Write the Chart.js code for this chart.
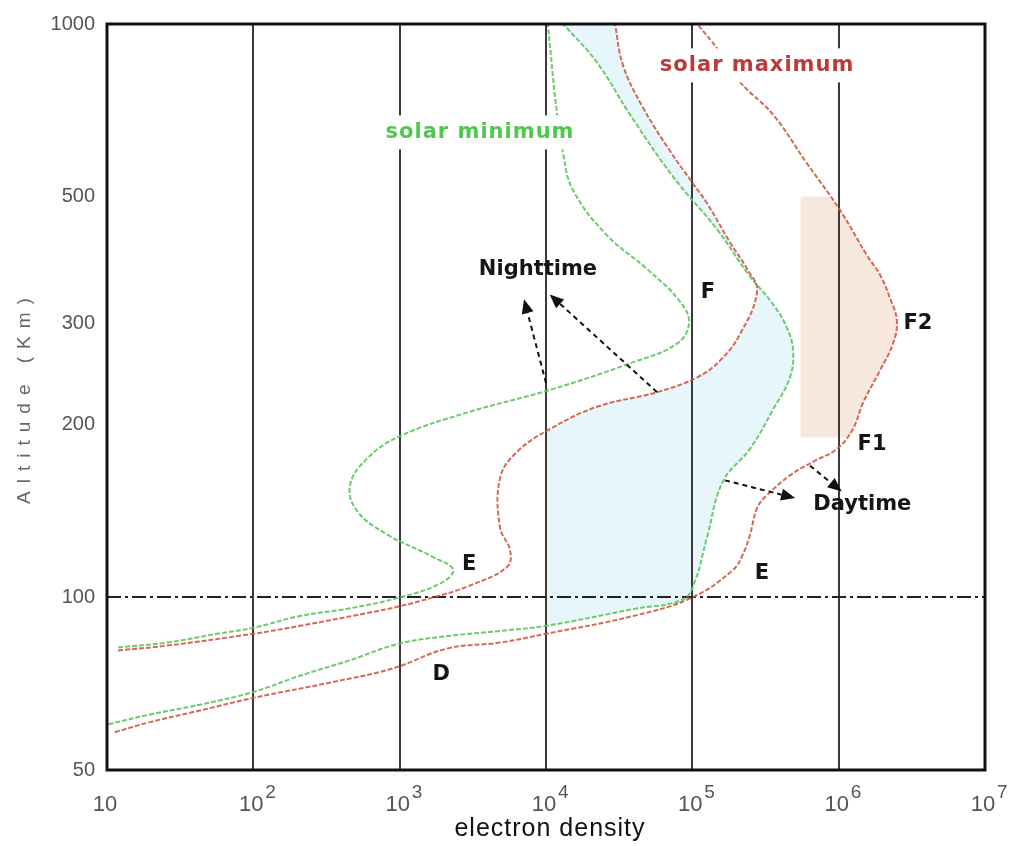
<!doctype html>
<html lang="en">
  <head>
    <meta charset="UTF-8" />
    <title>Electron density vs altitude</title>
    <script src="https://cdn.jsdelivr.net/npm/chart.js"></script>
    <style>
      html, body { margin: 0; padding: 0; background: #fff; }
    </style>
  </head>
  <body>
    <canvas id="ionoChart" width="1013" height="846"></canvas>
    <script>
      // axis ticks
      var xTicks = [10, 1e2, 1e3, 1e4, 1e5, 1e6, 1e7];
      var yTicks = [50, 100, 200, 300, 500, 1000];

      // nighttime profile, solar minimum (green)
      var nightMinX = [11.9, 25.7, 56.5, 100, 208, 458, 1000, 1890, 2320, 1690, 819, 511, 458, 598, 1000, 2880, 10600, 37500, 78500, 94900, 82400, 49000, 26100, 15300, 13100, 11700, 10800, 10300];
      var nightMinY = [81.8, 83.4, 86.4, 88.5, 92.8, 95.7, 100, 105.7, 111.7, 117.6, 128.8, 141.6, 156.9, 174.6, 191, 210, 230, 256, 277, 301, 328, 374, 428, 513, 594, 723, 881, 1000];

      // nighttime profile, solar maximum (red)
      var nightMaxX = [11.9, 25.7, 100, 208, 598, 1000, 1690, 2880, 5420, 5680, 4850, 4850, 6340, 10600, 22300, 57400, 108000, 155000, 212000, 277000, 237000, 181000, 126000, 101000, 70300, 46000, 33600, 29600];
      var nightMaxY = [80.8, 82.4, 86.4, 89.2, 93.9, 96.5, 100, 104.4, 113, 120.9, 132.4, 161.3, 179.4, 196.5, 215, 228, 242, 259, 288, 342, 374, 416, 487, 527, 601, 715, 847, 1000];

      // daytime profile, solar minimum (green)
      var dayMinX = [10.2, 19.7, 43.2, 100, 208, 458, 1000, 2210, 4850, 10000, 39400, 86300, 104000, 126000, 162000, 248000, 356000, 465000, 488000, 444000, 356000, 240000, 148000, 73700, 37500, 22300, 13100];
      var dayMinY = [60.1, 62.5, 65, 68.4, 73, 77.7, 83.1, 85.7, 87.4, 89.2, 95.4, 99.2, 106.5, 127.3, 159.4, 181.6, 212.6, 242, 269.5, 295, 324.5, 366.7, 438, 542, 695, 857, 1000];

      // daytime profile, solar maximum (red)
      var dayMaxX = [11.3, 19.7, 43.2, 100, 350, 900, 2100, 4850, 10000, 39400, 100000, 190000, 222000, 248000, 277000, 324000, 465000, 668000, 975000, 1250000, 1470000, 1920000, 2350000, 2500000, 2250000, 1920000, 1560000, 1020000, 608000, 356000, 212000, 148000, 108000];
      var dayMaxY = [58.2, 60.6, 63.5, 66.8, 71.2, 75.2, 81.4, 83.4, 86.4, 92.8, 100, 111.7, 119, 128.8, 143.2, 150.8, 163.2, 172.4, 181.6, 196.5, 218.6, 249, 277, 303.4, 332, 365, 395, 474, 571, 695, 792, 906, 1000];

      // text annotations (data coordinates)
      var noteText = ["Nighttime", "F", "F2", "F1", "Daytime", "E", "E", "D"];
      var noteX = [8810, 128000, 3480000, 1690000, 1450000, 2980, 299000, 1920];
      var noteY = [373, 340, 300, 185, 145, 114, 110, 73.5];

      // dashed arrows: tail -> tip (data coordinates)
      var arrowFromX = [10000, 57400, 167000, 637000];
      var arrowFromY = [236.6, 228, 160, 169.7];
      var arrowToX = [7080, 10600, 504000, 1050000];
      var arrowToY = [331, 337.6, 149, 153];

      var GREEN = "rgba(95, 195, 95, 0.9)";
      var RED = "rgba(210, 90, 70, 0.9)";

      function pts(xs, ys) {
        return xs.map(function (x, i) {
          return { x: x, y: ys[i] };
        });
      }

      function curve(label, xs, ys, color) {
        return {
          label: label,
          data: pts(xs, ys),
          showLine: true,
          borderColor: color,
          borderWidth: 2,
          borderDash: [5, 2],
          pointRadius: 0,
          tension: 0.4,
          fill: false,
        };
      }

      function bez(ctx, p, q, rev) {
        if (!rev) {
          if (p.cp2x === undefined) ctx.lineTo(q.x, q.y);
          else ctx.bezierCurveTo(p.cp2x, p.cp2y, q.cp1x, q.cp1y, q.x, q.y);
        } else {
          if (p.cp1x === undefined) ctx.lineTo(q.x, q.y);
          else ctx.bezierCurveTo(p.cp1x, p.cp1y, q.cp2x, q.cp2y, q.x, q.y);
        }
      }

      // shade the area between two profiles, limited to a rectangle
      function fillBetween(chart, a, b, color, l, t, r, btm) {
        var ctx = chart.ctx;
        var ma = chart.getDatasetMeta(a);
        var mb = chart.getDatasetMeta(b);
        [ma, mb].forEach(function (m) {
          if (m.dataset && m.dataset.updateControlPoints) {
            m.dataset.updateControlPoints(chart.chartArea, "x");
          }
        });
        var pa = ma.data;
        var pb = mb.data;
        var i;
        ctx.save();
        ctx.beginPath();
        ctx.rect(l, t, r - l, btm - t);
        ctx.clip();
        ctx.beginPath();
        ctx.moveTo(pa[0].x, pa[0].y);
        for (i = 1; i < pa.length; i++) bez(ctx, pa[i - 1], pa[i], false);
        ctx.lineTo(pb[pb.length - 1].x, pb[pb.length - 1].y);
        for (i = pb.length - 1; i > 0; i--) bez(ctx, pb[i], pb[i - 1], true);
        ctx.closePath();
        ctx.fillStyle = color;
        ctx.fill();
        ctx.restore();
      }

      function arrow(ctx, x0, y0, x1, y1) {
        var ang = Math.atan2(y1 - y0, x1 - x0);
        var head = 14;
        var w = 6;
        var bx = x1 - head * Math.cos(ang);
        var by = y1 - head * Math.sin(ang);
        ctx.save();
        ctx.strokeStyle = "#111";
        ctx.fillStyle = "#111";
        ctx.lineWidth = 2;
        ctx.setLineDash([5, 4]);
        ctx.beginPath();
        ctx.moveTo(x0, y0);
        ctx.lineTo(bx, by);
        ctx.stroke();
        ctx.setLineDash([]);
        ctx.beginPath();
        ctx.moveTo(x1, y1);
        ctx.lineTo(bx + w * Math.sin(ang), by - w * Math.cos(ang));
        ctx.lineTo(bx - w * Math.sin(ang), by + w * Math.cos(ang));
        ctx.closePath();
        ctx.fill();
        ctx.restore();
      }

      function boxedLabel(ctx, text, x, y, color) {
        ctx.save();
        ctx.font = 'bold 21px "DejaVu Sans"';
        ctx.letterSpacing = "1px";
        var w = ctx.measureText(text).width;
        ctx.fillStyle = "#fff";
        ctx.fillRect(x - w / 2 - 8, y - 17, w + 16, 34);
        ctx.fillStyle = color;
        ctx.textAlign = "center";
        ctx.textBaseline = "middle";
        ctx.fillText(text, x, y);
        ctx.restore();
      }

      var decorations = {
        id: "decorations",
        beforeDraw: function (chart) {
          var a = chart.chartArea;
          var xs = chart.scales.x;
          var ys = chart.scales.y;
          // pale blue between the night solar-max and day solar-min profiles
          fillBetween(chart, 1, 2, "rgba(214, 240, 248, 0.6)", xs.getPixelForValue(1e4), a.top, a.right, a.bottom);
          // peach F2 bulge
          fillBetween(chart, 2, 3, "rgba(242, 215, 198, 0.6)", xs.getPixelForValue(5.5e5), ys.getPixelForValue(500), a.right, ys.getPixelForValue(190));
        },
        afterDatasetsDraw: function (chart) {
          var ctx = chart.ctx;
          var a = chart.chartArea;
          var xs = chart.scales.x;
          var ys = chart.scales.y;
          var i;

          boxedLabel(ctx, "solar minimum", xs.getPixelForValue(3540), ys.getPixelForValue(647), "rgb(80, 200, 80)");
          boxedLabel(ctx, "solar maximum", xs.getPixelForValue(277000), ys.getPixelForValue(847), "rgb(185, 60, 60)");

          for (i = 0; i < arrowFromX.length; i++) {
            arrow(ctx,
              xs.getPixelForValue(arrowFromX[i]), ys.getPixelForValue(arrowFromY[i]),
              xs.getPixelForValue(arrowToX[i]), ys.getPixelForValue(arrowToY[i]));
          }

          ctx.save();
          ctx.font = 'bold 21px "DejaVu Sans"';
          ctx.fillStyle = "#151515";
          ctx.textAlign = "center";
          ctx.textBaseline = "middle";
          for (i = 0; i < noteText.length; i++) {
            ctx.fillText(noteText[i], xs.getPixelForValue(noteX[i]), ys.getPixelForValue(noteY[i]));
          }
          ctx.restore();

          // frame
          ctx.save();
          ctx.strokeStyle = "#111";
          ctx.lineWidth = 3;
          ctx.strokeRect(a.left, a.top, a.right - a.left, a.bottom - a.top);
          ctx.restore();
        },
        afterDraw: function (chart) {
          var ctx = chart.ctx;
          var a = chart.chartArea;
          var xs = chart.scales.x;

          // x tick labels as 10 with a raised exponent
          ctx.save();
          ctx.fillStyle = "#555";
          ctx.textBaseline = "alphabetic";
          xTicks.forEach(function (v) {
            var px = xs.getPixelForValue(v);
            var e = Math.round(Math.log10(v));
            ctx.font = '22px "Liberation Sans"';
            ctx.textAlign = "center";
            ctx.fillText("10", px - 2, a.bottom + 41);
            if (e > 1) {
              ctx.font = '19px "Liberation Sans"';
              ctx.textAlign = "left";
              ctx.fillText(String(e), px + 12, a.bottom + 28);
            }
          });
          ctx.restore();

          // axis titles
          ctx.save();
          ctx.fillStyle = "#111";
          ctx.font = '25px "Liberation Sans"';
          ctx.letterSpacing = "1px";
          ctx.textAlign = "center";
          ctx.textBaseline = "middle";
          ctx.fillText("electron density", (a.left + a.right) / 2 + 4, 829);
          ctx.restore();

          ctx.save();
          ctx.fillStyle = "#666";
          ctx.font = '19px "Liberation Sans"';
          ctx.letterSpacing = "8px";
          ctx.textAlign = "center";
          ctx.textBaseline = "middle";
          ctx.translate(25, 401);
          ctx.rotate(-Math.PI / 2);
          ctx.fillText("Altitude (Km)", 4, 0);
          ctx.restore();
        },
      };

      var ctx = document.getElementById("ionoChart").getContext("2d");
      var ionoChart = new Chart(ctx, {
        type: "scatter",
        data: {
          datasets: [
            curve("Nighttime, solar minimum", nightMinX, nightMinY, GREEN),
            curve("Nighttime, solar maximum", nightMaxX, nightMaxY, RED),
            curve("Daytime, solar minimum", dayMinX, dayMinY, GREEN),
            curve("Daytime, solar maximum", dayMaxX, dayMaxY, RED),
          ],
        },
        options: {
          responsive: false,
          animation: false,
          layout: { padding: { top: 18, right: 28, left: 0, bottom: 0 } },
          plugins: {
            legend: { display: false },
            tooltip: { enabled: false },
          },
          scales: {
            x: {
              type: "logarithmic",
              min: 10,
              max: 1e7,
              afterBuildTicks: function (scale) {
                scale.ticks = xTicks.map(function (v) {
                  return { value: v };
                });
              },
              afterFit: function (scale) {
                scale.height = 76;
              },
              ticks: { display: false },
              grid: { color: "#3a3a3a", lineWidth: 2, drawTicks: false },
              border: { display: false },
              title: { display: false },
            },
            y: {
              type: "logarithmic",
              min: 50,
              max: 1000,
              afterBuildTicks: function (scale) {
                scale.ticks = yTicks.map(function (v) {
                  return { value: v };
                });
              },
              afterFit: function (scale) {
                scale.width = 107;
              },
              ticks: {
                padding: 12,
                color: "#555",
                font: { family: "Liberation Sans", size: 20 },
                callback: function (v) {
                  return String(v);
                },
              },
              grid: {
                drawTicks: false,
                lineWidth: 2,
                color: function (c) {
                  return c.tick && c.tick.value === 100 ? "#222" : "rgba(0,0,0,0)";
                },
              },
              border: { display: false, dash: [14, 4, 3, 4] },
              title: { display: false },
            },
          },
        },
        plugins: [decorations],
      });
    </script>
  </body>
</html>
